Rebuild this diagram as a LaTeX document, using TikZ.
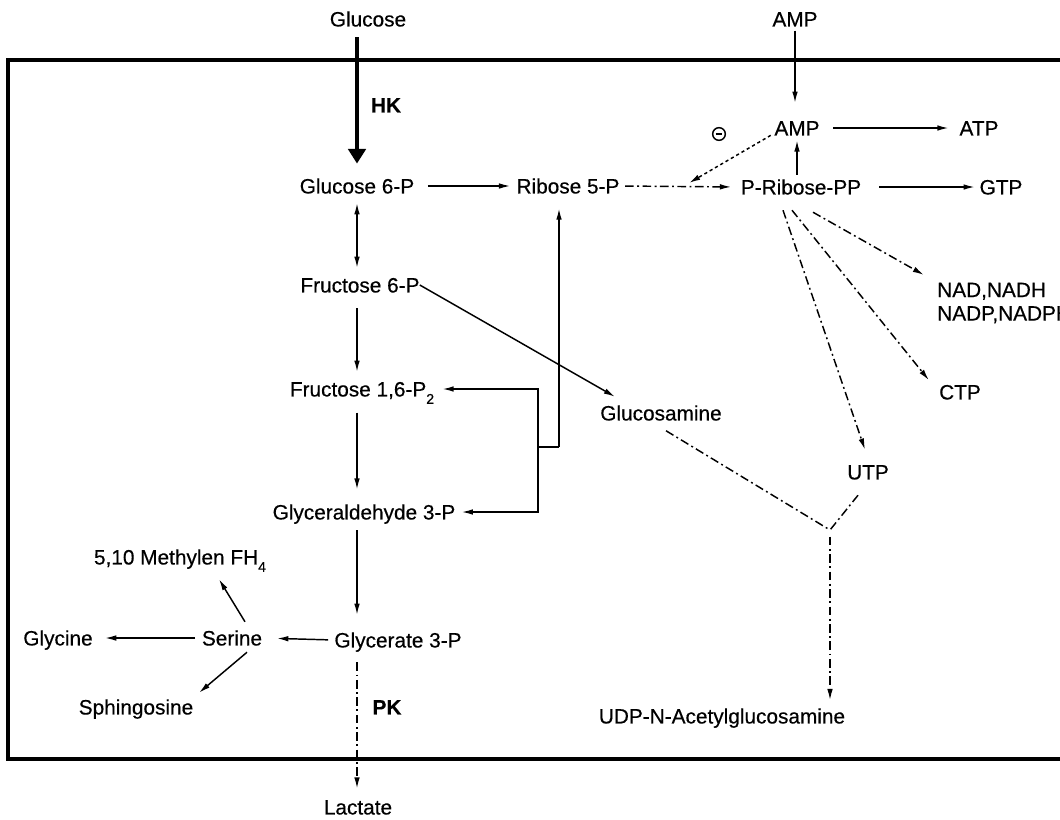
\documentclass[tikz,border=0pt]{standalone}
\usepackage{fontspec}
\setmainfont{Liberation Sans}[FakeBold=0.45]
\usetikzlibrary{arrows.meta}
\newcommand\lblfont{\fontsize{15.6}{15}\selectfont}
\newcommand\mysub[1]{\raisebox{-0.35em}{\fontsize{10.5}{10}\selectfont #1}}
\begin{document}
\begin{tikzpicture}[x=0.75pt,y=-0.75pt,
  lab/.style={font=\lblfont, inner sep=0pt, text height=11.2pt, text depth=0pt},
  boldlab/.style={lab, font=\lblfont\bfseries},
  ar/.style={line width=1.1pt, -{Latex[length=8.5pt,width=4.2pt]}},
  dd/.style={dash pattern=on 6.5pt off 2.6pt on 1.4pt off 2.6pt},
  dt/.style={dash pattern=on 2.4pt off 2.2pt},
  frame/.style={line width=2.3pt},
  hkarrow/.style={line width=3pt, -{Triangle[length=11pt,width=13pt]}},
]
\useasboundingbox (0,0) rectangle (1060,819);
\draw[frame] (1075,60) -- (8,60) -- (8,759) -- (1075,759);

% nodes
\node[lab] (glc) at (368,19) {Glucose};
\node[lab] (amp0) at (795,19) {AMP};
\node[lab] (g6p) at (357,186) {Glucose 6-P};
\node[lab] (r5p) at (568,186) {Ribose 5-P};
\node[lab] (prpp) at (801,187) {P-Ribose-PP};
\node[lab] (amp) at (797,128) {AMP};
\node[lab] (atp) at (979,128) {ATP};
\node[lab] (gtp) at (1001,187) {GTP};
\node[font=\lblfont, inner sep=0pt, align=left, anchor=north west] (nad) at (937,282.5) {NAD,NADH\\[2.6pt]NADP,NADPH};
\node[lab] (ctp) at (960,392) {CTP};
\node[lab] (utp) at (868,472) {UTP};
\node[lab] (udp) at (722,716) {UDP-N-Acetylglucosamine};
\node[lab] (glcn) at (661,413) {Glucosamine};
\node[lab] (f6p) at (360,285) {Fructose 6-P};
\node[lab] (f16) at (362,389) {Fructose 1,6-P\mysub{2}};
\node[lab] (gap) at (364,512) {Glyceraldehyde 3-P};
\node[lab] (g3p) at (398,640) {Glycerate 3-P};
\node[lab] (ser) at (232,638) {Serine};
\node[lab] (gly) at (58,638) {Glycine};
\node[lab] (mth) at (180,557) {5,10 Methylen FH\mysub{4}};
\node[lab] (sph) at (136,707) {Sphingosine};
\node[lab] (lac) at (358,807) {Lactate};
\node[boldlab] (hk) at (386,105) {HK};
\node[boldlab] (pk) at (387,707) {PK};
\node[circle, draw, line width=1.1pt, minimum size=9.5pt, inner sep=0pt] (inh) at (719,134) {};
\draw[line width=1.1pt] ([xshift=-2.6pt]inh.center) -- ([xshift=2.6pt]inh.center);

% free-end coordinates
\coordinate (inhT) at (689,183);
\coordinate (br) at (538,447);
\coordinate (jn) at (559,447);
\coordinate (Y) at (830,530);

% glycolysis
\draw[hkarrow, shorten <=8pt, shorten >=11pt] (g6p |- glc.south) -- (g6p.north);
\draw[ar, {Latex[length=8.5pt,width=4.2pt]}-{Latex[length=8.5pt,width=4.2pt]}, shorten <=7pt, shorten >=7pt] (g6p.south) -- (g6p.south |- f6p.north);
\draw[ar, shorten <=11.5pt, shorten >=7pt] (g6p |- f6p.south) -- (g6p |- f16.north);
\draw[ar, shorten <=12pt, shorten >=11pt] (g6p |- f16.south) -- (g6p |- gap.north);
\draw[ar, shorten <=8pt, shorten >=13pt] (g6p |- gap.south) -- (g6p |- g3p.north);
\draw[ar, dd, shorten <=11pt, shorten >=8pt] (g6p |- g3p.south) -- (g6p |- lac.north);

% pentose / nucleotides
\draw[ar, shorten <=10pt, shorten >=4.5pt] (g6p.east) -- (r5p.west);
\draw[ar, dd, shorten <=4pt, shorten >=7pt] (r5p.east) -- (prpp.west);
\draw[ar, shorten <=3pt, shorten >=13pt] (amp0.south) -- (amp0.south |- amp.north);
\draw[ar, shorten <=10pt, shorten >=8pt] (amp.east) -- (atp.west);
\draw[ar, shorten <=3.4pt, shorten >=3.4pt] (amp.south |- prpp.north) -- (amp.south);
\draw[ar, shorten <=13.5pt, shorten >=3.4pt] (prpp.east) -- (gtp.west);
\draw[ar, dt, shorten <=3pt] ([yshift=-4]amp.west) -- (inhT);
\draw[ar, dd] ([shift={(12,17.5)}]prpp.south) -- ([shift={(-13,-7.5)}]nad.north west);
\draw[ar, dd] ([shift={(-9,15.5)}]prpp.south) -- ([shift={(-10,-4)}]ctp.north west);
\draw[ar, dd] ([shift={(-18,15.5)}]prpp.south) -- ([shift={(-3,-14.5)}]utp.north);

% glucosamine branch
\draw[ar] (f6p.east) -- ([shift={(15,-8.5)}]glcn.north west);
\draw[dd, line width=1.1pt] ([shift={(5,10)}]glcn.south) -- (Y);
\draw[dd, line width=1.1pt] ([shift={(-10,15.5)}]utp.south) -- (Y);
\draw[ar, dd, shorten <=5pt, shorten >=6pt] (Y) -- (Y |- udp.north);

% bracket from triose to ribose
\draw[ar, shorten >=11pt] (jn) -- (jn |- r5p.south);
\draw[line width=1.1pt] (br) -- (jn);
\draw[ar, shorten >=6pt] (br) |- (f16.east);
\draw[ar, shorten >=4.5pt] (br) |- (gap.east);

% serine branch
\draw[ar, shorten <=4.5pt, shorten >=11pt] (g3p.west) -- (ser.east);
\draw[ar, shorten <=5pt, shorten >=9pt] (ser.west) -- (gly.east);
\draw[ar] ([shift={(13,-8.5)}]ser.north) -- ([shift={(39,14.5)}]mth.south);
\draw[ar] ([shift={(15,6.5)}]ser.south) -- ([shift={(63,-6.5)}]sph.north);
\end{tikzpicture}
\end{document}
